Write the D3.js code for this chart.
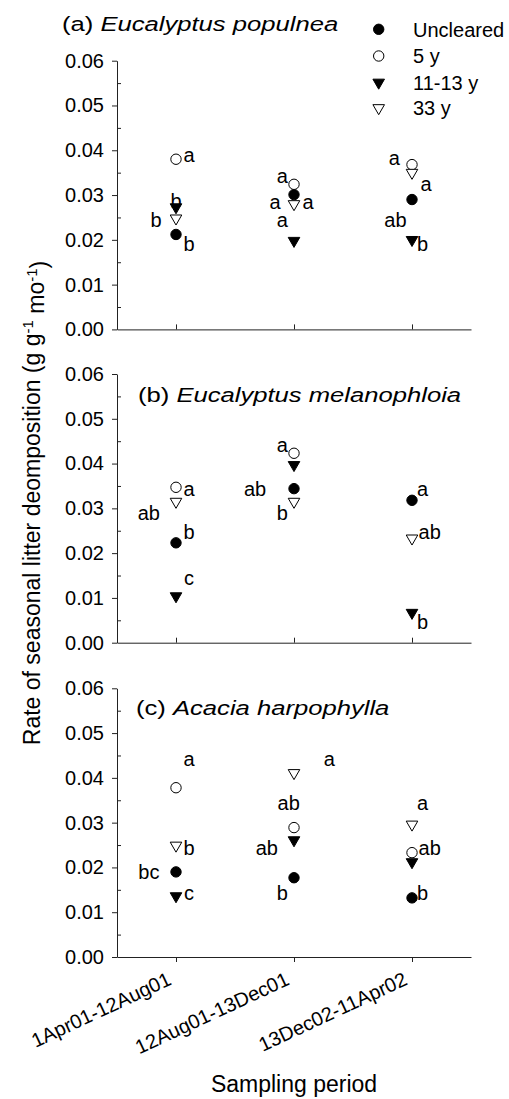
<!DOCTYPE html>
<html>
<head>
<meta charset="utf-8">
<script src="https://cdn.jsdelivr.net/npm/d3@7"></script>
<style>
  body { margin: 0; background: #fff; }
  text { font-family: "Liberation Sans", Arial, Helvetica, sans-serif; fill: #000; }
</style>
</head>
<body>
<div id="chart"></div>
<script>
// sampling periods and treatments
const periods = ["1Apr01-12Aug01", "12Aug01-13Dec01", "13Dec02-11Apr02"];
const treatments = ["Uncleared", "5 y", "11-13 y", "33 y"];
const yTicks = [0, 0.01, 0.02, 0.03, 0.04, 0.05, 0.06];
const yMinorTicks = [0.005, 0.015, 0.025, 0.035, 0.045, 0.055];

// (a) Eucalyptus populnea
const popUncleared = [0.0212, 0.0301, 0.0290];
const pop5y = [0.0380, 0.0324, 0.0368];
const pop1113 = [0.0273, 0.0198, 0.0200];
const pop33 = [0.0248, 0.0280, 0.0350];
// letters: [period position, value position, text]
const popLetters = [
  [0.11, 0.0385, "a"], [0.0, 0.0284, "b"], [-0.17, 0.0240, "b"], [0.11, 0.0188, "b"],
  [0.90, 0.0338, "a"], [0.84, 0.0280, "a"], [1.12, 0.0280, "a"], [0.90, 0.0240, "a"],
  [1.85, 0.0380, "a"], [2.12, 0.0320, "a"], [1.86, 0.0240, "ab"], [2.09, 0.0188, "b"]
];

// (b) Eucalyptus melanophloia
const melUncleared = [0.0223, 0.0344, 0.0318];
const mel5y = [0.0347, 0.0423, null];
const mel1113 = [0.0104, 0.0397, 0.0067];
const mel33 = [0.0315, 0.0315, 0.0233];
const melLetters = [
  [0.11, 0.0339, "a"], [-0.23, 0.0287, "ab"], [0.11, 0.0243, "b"], [0.11, 0.0141, "c"],
  [0.90, 0.0439, "a"], [0.67, 0.0339, "ab"], [0.90, 0.0287, "b"],
  [2.09, 0.0339, "a"], [2.15, 0.0243, "ab"], [2.09, 0.0043, "b"]
];

// (c) Acacia harpophylla
const acaUncleared = [0.0190, 0.0177, 0.0132];
const aca5y = [0.0378, 0.0289, 0.0233];
const aca1113 = [0.0136, 0.0261, 0.0212];
const aca33 = [0.0249, 0.0411, 0.0296];
const acaLetters = [
  [0.11, 0.0439, "a"], [0.11, 0.0240, "b"], [-0.23, 0.0186, "bc"], [0.11, 0.0140, "c"],
  [1.30, 0.0439, "a"], [0.955, 0.0341, "ab"], [0.77, 0.0240, "ab"], [0.90, 0.0140, "b"],
  [2.09, 0.0341, "a"], [2.15, 0.0240, "ab"], [2.09, 0.0140, "b"]
];

const panels = [
  {tag: "(a)", species: "Eucalyptus populnea", series: [popUncleared, pop5y, pop1113, pop33], letters: popLetters},
  {tag: "(b)", species: "Eucalyptus melanophloia", series: [melUncleared, mel5y, mel1113, mel33], letters: melLetters},
  {tag: "(c)", species: "Acacia harpophylla", series: [acaUncleared, aca5y, aca1113, aca33], letters: acaLetters}
];

// layout
const W = 509, H = 1099;
const left = 117, plotW = 354, plotH = 268.7;
const panelTops = [60.7, 374, 688.3];
const titlePos = [[62, 31], [138, 401.7], [136, 715]];

// marker styles per treatment
const markerStyle = [
  {shape: "circle", fill: "#000"},
  {shape: "circle", fill: "#fff"},
  {shape: "triangle", fill: "#000"},
  {shape: "triangle", fill: "#fff"}
];

const svg = d3.select("#chart").append("svg")
  .attr("width", W)
  .attr("height", H);

const x = d3.scaleLinear().domain([-0.5, 2.5]).range([0, plotW]);
const y = d3.scaleLinear().domain([0, 0.06]).range([plotH, 0]);

const triPath = d3.symbol().type(d3.symbolTriangle).size(58)();

function drawMarker(g, cx, cy, style) {
  if (style.shape === "circle") {
    g.append("circle")
      .attr("cx", cx).attr("cy", cy).attr("r", 5.2)
      .attr("fill", style.fill)
      .attr("stroke", "#000").attr("stroke-width", 1);
  } else {
    g.append("path")
      .attr("d", triPath)
      .attr("transform", `translate(${cx},${cy}) rotate(180)`)
      .attr("fill", style.fill)
      .attr("stroke", "#000").attr("stroke-width", 1);
  }
}

panels.forEach(function(p, i) {
  const g = svg.append("g")
    .attr("transform", `translate(${left},${panelTops[i]})`);

  // y axis, major ticks outward, minor ticks inward
  g.append("g")
    .call(d3.axisLeft(y).tickValues(yTicks).tickSize(5).tickSizeOuter(0)
      .tickPadding(8).tickFormat(d3.format(".2f")));
  g.append("g")
    .call(d3.axisLeft(y).tickValues(yMinorTicks).tickSize(-4).tickSizeOuter(0).tickFormat(""))
    .select(".domain").remove();

  // x axis
  const isLast = i === panels.length - 1;
  const xAxis = g.append("g")
    .attr("transform", `translate(0,${plotH})`)
    .call(d3.axisBottom(x).tickValues([0, 1, 2]).tickSize(isLast ? 5 : -5).tickSizeOuter(0).tickFormat(""));

  g.selectAll(".domain, .tick line").attr("stroke", "#222");
  g.selectAll(".tick text").style("font-size", "20px").attr("fill", "#000");

  if (isLast) {
    xAxis.selectAll(".tick").append("text")
      .attr("transform", "translate(-4,27) rotate(-25)")
      .attr("text-anchor", "end")
      .style("font-size", "20px")
      .attr("fill", "#000")
      .text(function(d) { return periods[d]; });
  }

  // title
  const t = svg.append("text")
    .attr("transform", `translate(${titlePos[i][0]},${titlePos[i][1]}) scale(1.25,1)`)
    .style("font-size", "20.5px");
  t.append("tspan").text(p.tag + " ");
  t.append("tspan").style("font-style", "italic").text(p.species);

  // points
  p.series.forEach(function(vals, s) {
    vals.forEach(function(v, k) {
      if (v === null) return;
      drawMarker(g, x(k), y(v), markerStyle[s]);
    });
  });

  // significance letters
  g.selectAll(".letter")
    .data(p.letters)
    .join("text")
    .attr("class", "letter")
    .attr("x", function(d) { return x(d[0]); })
    .attr("y", function(d) { return y(d[1]); })
    .attr("dy", "0.27em")
    .attr("text-anchor", "middle")
    .style("font-size", "20px")
    .text(function(d) { return d[2]; });
});

// legend
const legendY = [29.3, 56, 82.5, 108];
treatments.forEach(function(name, s) {
  drawMarker(svg, 378.7, legendY[s], markerStyle[s]);
  svg.append("text")
    .attr("x", 413)
    .attr("y", legendY[s])
    .attr("dy", "0.36em")
    .style("font-size", "20px")
    .text(name);
});

// axis titles
const yTitle = svg.append("text")
  .attr("transform", "translate(40,503) rotate(-90)")
  .attr("text-anchor", "middle")
  .style("font-size", "23px");
yTitle.append("tspan").text("Rate of seasonal litter deomposition (g g");
yTitle.append("tspan").attr("dy", "-0.45em").style("font-size", "15px").text("-1");
yTitle.append("tspan").attr("dy", "0.45em").text(" mo");
yTitle.append("tspan").attr("dy", "-0.45em").style("font-size", "15px").text("-1");
yTitle.append("tspan").attr("dy", "0.45em").text(")");

svg.append("text")
  .attr("x", left + x(1))
  .attr("y", 1092)
  .attr("text-anchor", "middle")
  .style("font-size", "23px")
  .text("Sampling period");
</script>
</body>
</html>
